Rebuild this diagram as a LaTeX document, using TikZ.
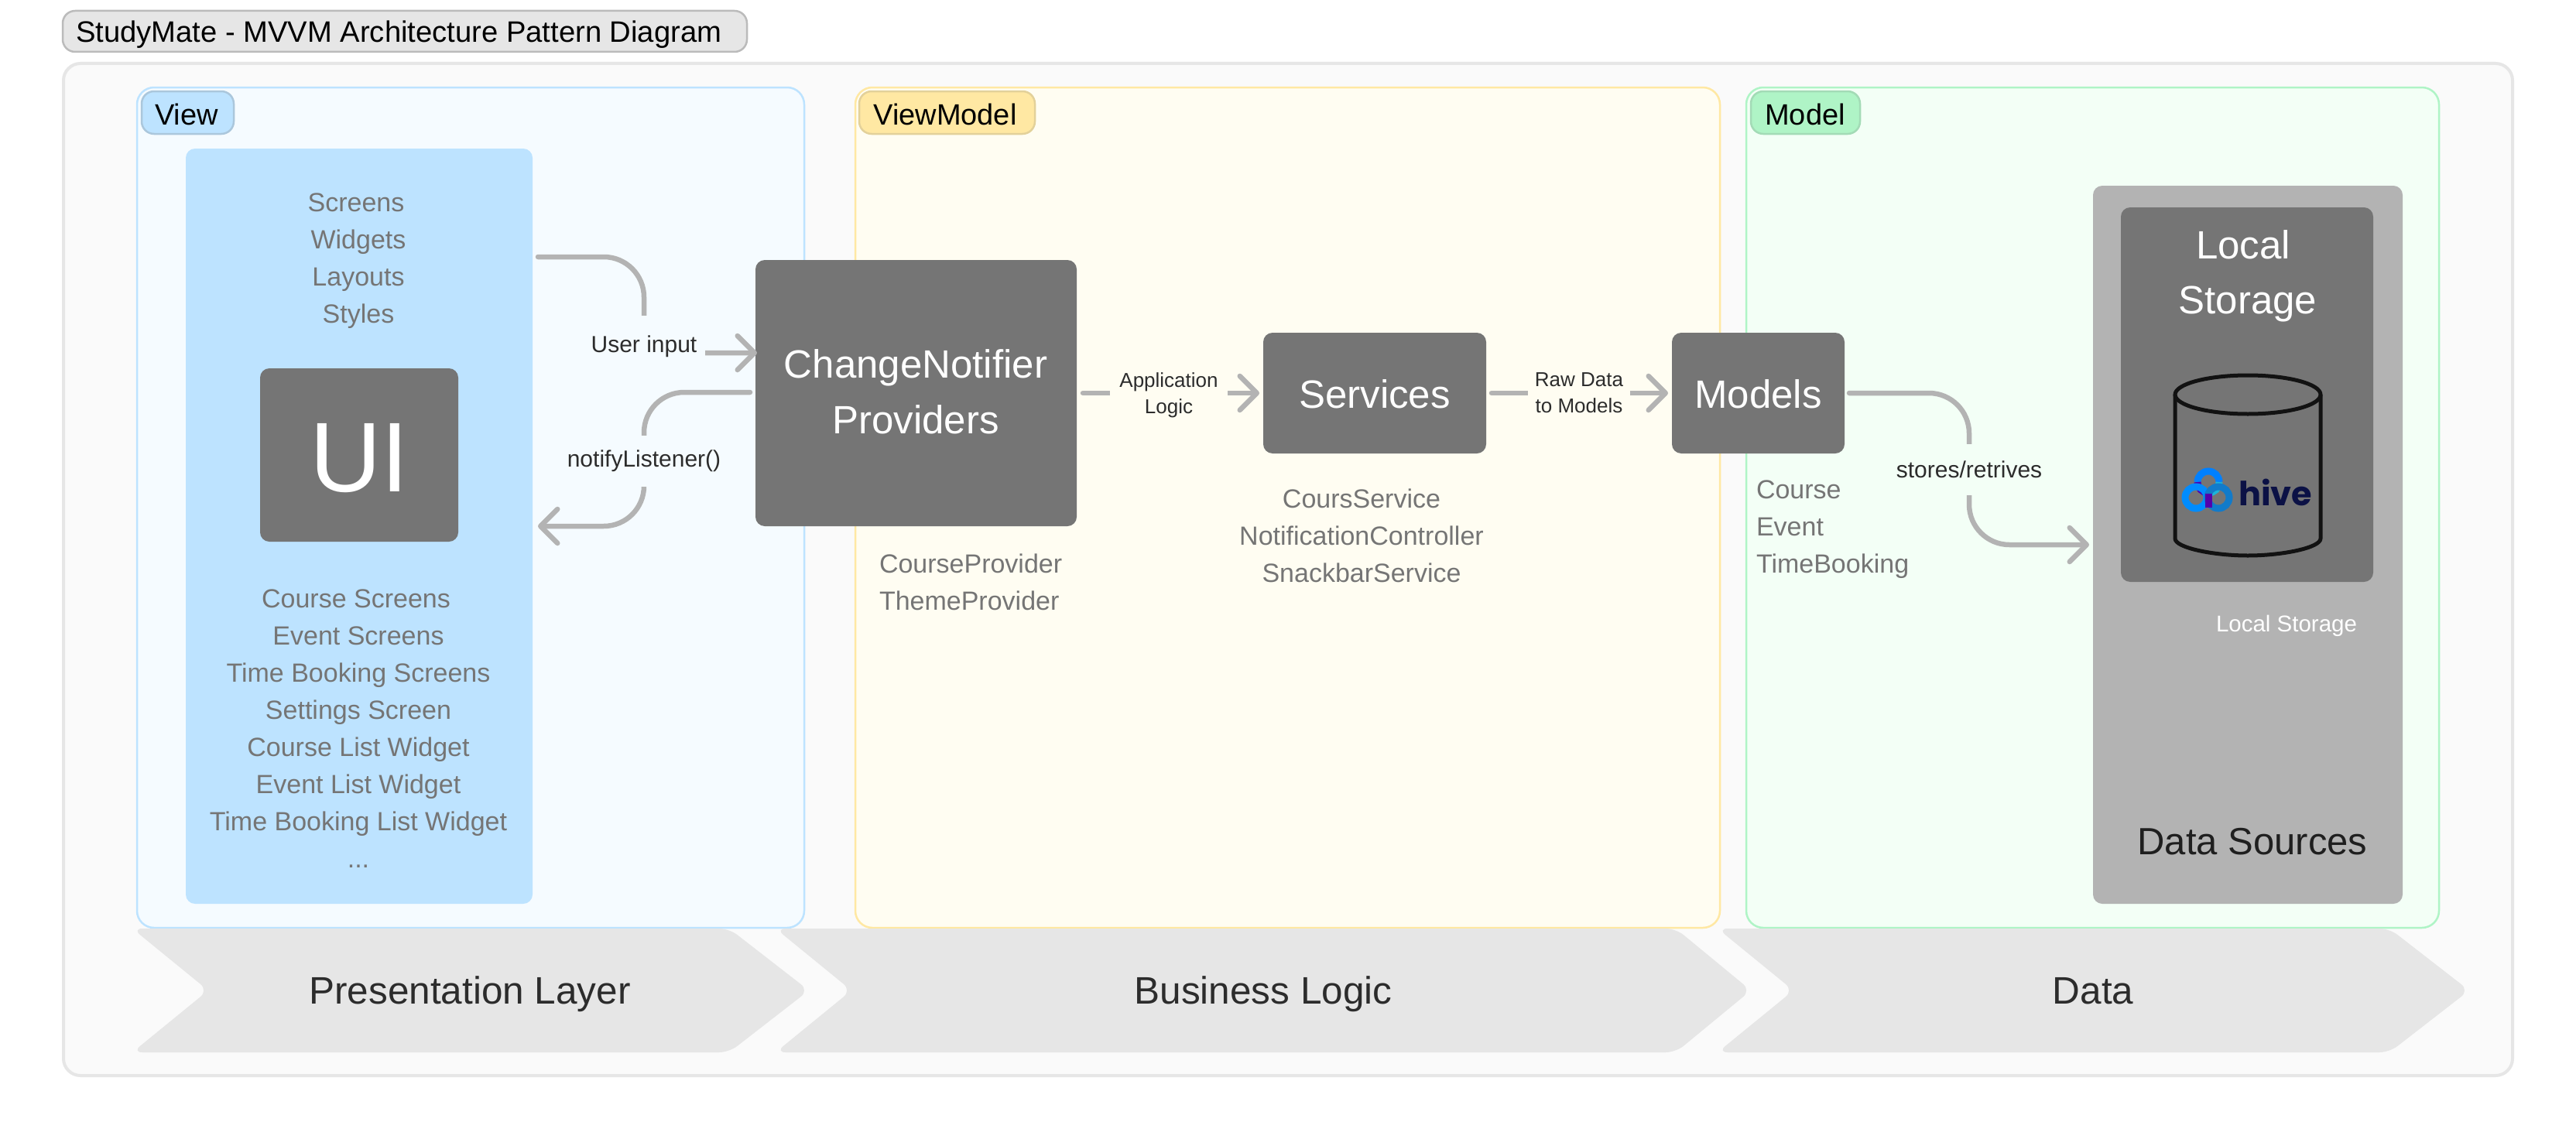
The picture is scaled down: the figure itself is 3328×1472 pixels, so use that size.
\documentclass[tikz,border=0pt]{standalone}
\usepackage{fontspec}
\setmainfont{Liberation Sans}
\newfontfamily\hivefont{Poppins}
\usetikzlibrary{arrows.meta,calc}
\definecolor{dk}{HTML}{757575}
\definecolor{md}{HTML}{B3B3B3}
\definecolor{lt}{HTML}{E6E6E6}
\definecolor{ink}{HTML}{2C2C2C}
\definecolor{blueA}{HTML}{BDE3FF}
\definecolor{blueB}{HTML}{F5FBFF}
\definecolor{yelA}{HTML}{FFE8A3}
\definecolor{yelB}{HTML}{FFFDF2}
\definecolor{grnA}{HTML}{AFF4C6}
\definecolor{grnB}{HTML}{F3FFF6}
\definecolor{hiveNavy}{HTML}{0B1145}
\newcommand{\fsz}[1]{\fontsize{#1}{#1}\selectfont}
\newcommand{\rbox}[7][]{\node[#2,minimum width={(#5-#3)*1pt},minimum height={(#6-#4)*1pt},inner sep=0pt,outer sep=0pt,#1] (#7) at ({(#3+#5)/2},{(#4+#6)/2}) {};}
\tikzset{
 x=1pt,y=-1pt,
 outerbox/.style={rectangle,rounded corners=22pt,fill=black!2,draw=lt,line width=4pt},
 titlebox/.style={rectangle,rounded corners=16pt,fill=lt,draw=md!85!lt,line width=2.5pt},
 viewpanel/.style={rectangle,rounded corners=22pt,fill=blueB,draw=blueA,line width=2.5pt},
 vmpanel/.style={rectangle,rounded corners=22pt,fill=yelB,draw=yelA,line width=2.5pt},
 mpanel/.style={rectangle,rounded corners=22pt,fill=grnB,draw=grnA,line width=2.5pt},
 viewtag/.style={rectangle,rounded corners=16pt,fill=blueA,draw=blueA!75!dk,line width=2.5pt},
 vmtag/.style={rectangle,rounded corners=16pt,fill=yelA,draw=yelA!80!dk,line width=2.5pt},
 mtag/.style={rectangle,rounded corners=16pt,fill=grnA,draw=grnA!80!dk,line width=2.5pt},
 bluefill/.style={rectangle,rounded corners=12pt,fill=blueA},
 darkbox/.style={rectangle,rounded corners=12pt,fill=dk},
 midbox/.style={rectangle,rounded corners=12pt,fill=md},
 txt/.style={anchor=base,inner sep=0pt,outer sep=0pt},
 tagtxt/.style={txt,text=black,font=\fsz{38},yshift=-10pt},
 greytxt/.style={txt,text=dk,font=\fsz{34},yshift=-11pt},
 whitebig/.style={txt,text=white,font=\fsz{51},yshift=-15pt},
 layertxt/.style={txt,text=ink,font=\fsz{49.5},yshift=-15pt},
 linklabel/.style={anchor=center,inner sep=0pt,outer sep=0pt,text=ink,align=center,font=\fsz{30}},
 smalllabel/.style={linklabel,font=\fsz{26},text depth=0pt},
 wire/.style={draw=md,line width=6.5pt,line cap=round,rounded corners=52pt},
 wirehead/.style={wire,-{Straight Barb[length=22pt,width=44pt,round]}},
 chevron/.style={fill=lt,rounded corners=13pt},
}
\newcommand{\chev}[7]{\fill[chevron] (#1-5,1200) -- (#3,1200) -- (#4+6,1280) -- (#3,1360) -- (#1-5,1360) -- (#2+5,1280) -- cycle;
 \node[layertxt] (#5) at (#7,1282) {#6};}
\begin{document}
\begin{tikzpicture}
\useasboundingbox (0,0) rectangle (3328,1472);
\fill[white] (0,0) rectangle (3328,1472);
% frames
\rbox{outerbox}{82}{82}{3246}{1390}{outer}
\rbox{titlebox}{81}{14}{965}{67}{titlebg}
\node[txt,anchor=base west,text=black,font=\fsz{38.2}] (title) at (98,55) {StudyMate - MVVM Architecture Pattern Diagram};
\rbox{viewpanel}{177}{113}{1039}{1199}{viewp}
\rbox{vmpanel}{1105}{113}{2222}{1199}{vmp}
\rbox{mpanel}{2256}{113}{3151}{1199}{modelp}
\rbox{viewtag}{183}{118}{302}{173}{viewt}
\rbox{vmtag}{1110}{118}{1337}{173}{vmt}
\rbox{mtag}{2262}{118}{2403}{173}{modelt}
\node[tagtxt] (viewl) at (241,151) {View};
\node[tagtxt] (vml) at (1221,151) {ViewModel};
\node[tagtxt] (modell) at (2332,151) {Model};
% chevrons
\chev{176}{264}{942}{1039}{presl}{Presentation Layer}{607}
\chev{1007}{1095}{2165}{2256}{busl}{Business Logic}{1632}
\chev{2224}{2312}{3087}{3184}{datal}{Data}{2704}
% blue column
\rbox{bluefill}{240}{192}{688}{1168}{blue}
\foreach \n/\t/\xx/\yy in {a/Screens/460/262,b/Widgets/463/310,c/Layouts/463/358,d/Styles/463/406,
 e/Course Screens/460/774,f/Event Screens/463/822,g/Time Booking Screens/463/870,h/Settings Screen/463/918,
 i/Course List Widget/463/966,j/Event List Widget/463/1014,k/Time Booking List Widget/463/1062}
 {\node[greytxt] (ui\n) at (\xx,\yy) {\t};}
\node[greytxt] (uil) at (463,1110) {{.}{.}{.}};
\rbox{darkbox}{336}{476}{592}{700}{uibox}
\node[txt,text=white,font=\fsz{128},yshift=-47pt] (uitext) at (uibox.center) {UI};
% dark boxes
\rbox{darkbox}{976}{336}{1391}{680}{cn}
\node[whitebig] (cn1) at (1183,473) {ChangeNotifier};
\node[whitebig] (cn2) at (1183,545) {Providers};
\rbox{darkbox}{1632}{430}{1920}{586}{serv}
\node[whitebig,yshift=-4pt] (servt) at (serv.center) {Services};
\rbox{darkbox}{2160}{430}{2383}{586}{models}
\node[whitebig,yshift=-4pt] (modelst) at (models.center) {Models};
\rbox{midbox}{2704}{240}{3104}{1168}{ds}
\rbox{darkbox}{2740}{268}{3066}{752}{ls}
\node[whitebig] (ls1) at (2898,319) {Local};
\node[whitebig] (ls2) at (2904,390) {Storage};
\node[txt,text=white,font=\fsz{29.5},yshift=-8pt] (ls3) at (2954,808) {Local Storage};
\node[txt,text=ink!70!black,font=\fsz{49},yshift=-15pt] (dst) at (2910,1089) {Data Sources};
% grey lists
\node[greytxt,anchor=base west] (p1) at (1136,729) {CourseProvider};
\node[greytxt,anchor=base west] (p2) at (1136,777) {ThemeProvider};
\node[greytxt] (s1) at (1759,645) {CoursService};
\node[greytxt] (s2) at (1759,693) {NotificationController};
\node[greytxt] (s3) at (1759,741) {SnackbarService};
\node[greytxt,anchor=base west] (m1) at (2269,633) {Course};
\node[greytxt,anchor=base west] (m2) at (2269,681) {Event};
\node[greytxt,anchor=base west] (m3) at (2269,729) {TimeBooking};
% cylinder
\draw[draw=black!93,line width=5pt,line join=round] (2810,510) -- (2810,696) .. controls (2810,708) and (2860,718) .. (2904,718) .. controls (2948,718) and (2998,708) .. (2998,696) -- (2998,510);
\draw[draw=black!93,line width=5pt] (2904,510) ellipse [x radius=94,y radius=25];
% hive logo
\begin{scope}[line width=9pt]
\draw[color=blue!50!cyan] (2853,623) ++(180:14) arc[start angle=180,end angle=360,radius=14];
\draw[color=violet!60!blue] (2839,623) arc[start angle=180,end angle=90,radius=14];
\draw[color=cyan!85!green!90!white] (2867,623) arc[start angle=0,end angle=90,radius=14];
\draw[color=blue!45!cyan] (2837,643) circle[radius=14];
\draw[color=cyan!60!blue] (2866,643) circle[radius=14];
\draw[color=violet!65!blue] (2853,638) -- (2853,656);
\end{scope}
\node[anchor=base west,inner sep=0pt,text=hiveNavy,font=\hivefont\bfseries\fsz{43}] (hivet) at (2892,653) {hive};
% connectors
\coordinate (a1) at ([yshift=-140pt,xshift=7pt]blue.north east);
\coordinate (a2) at ([yshift=-120pt,xshift=2pt]cn.north west);
\coordinate (b1) at ([yshift=-171pt,xshift=-7pt]cn.north west);
\coordinate (b2) at ([yshift=-488pt,xshift=7pt]blue.north east);
\coordinate (d1) at ([xshift=-5pt,yshift=-464pt]ds.north west);
\draw[wirehead] (a1) -- (832,332) -- (832,456) -- (a2);
\draw[wirehead] (b1) -- (832,507) -- (832,680) -- (b2);
\draw[wirehead] ([xshift=8pt]cn.east |- serv.west) -- ([xshift=-5pt]serv.west);
\draw[wirehead] ([xshift=7pt]serv.east) -- ([xshift=-5pt]models.west);
\draw[wirehead] ([xshift=6pt]models.east) -- (2544,508) -- (2544,704) -- (d1);
\node[linklabel,fill=blueB,minimum width=158pt,minimum height=80pt] (l1) at (832,448) {User input};
\node[linklabel,fill=blueB,minimum width=200pt,minimum height=66pt] (l2) at (832,596) {notifyListener()};
\node[smalllabel,fill=yelB,minimum width=152pt,minimum height=72pt] (l3) at (1510,508) {Application\\[8pt]Logic};
\node[smalllabel,fill=yelB,minimum width=132pt,minimum height=72pt] (l4) at (2040,508) {Raw Data\\[8pt]to Models};
\node[linklabel,fill=grnB,minimum width=196pt,minimum height=66pt] (l5) at (2544,607) {stores/retrives};
\end{tikzpicture}
\end{document}
